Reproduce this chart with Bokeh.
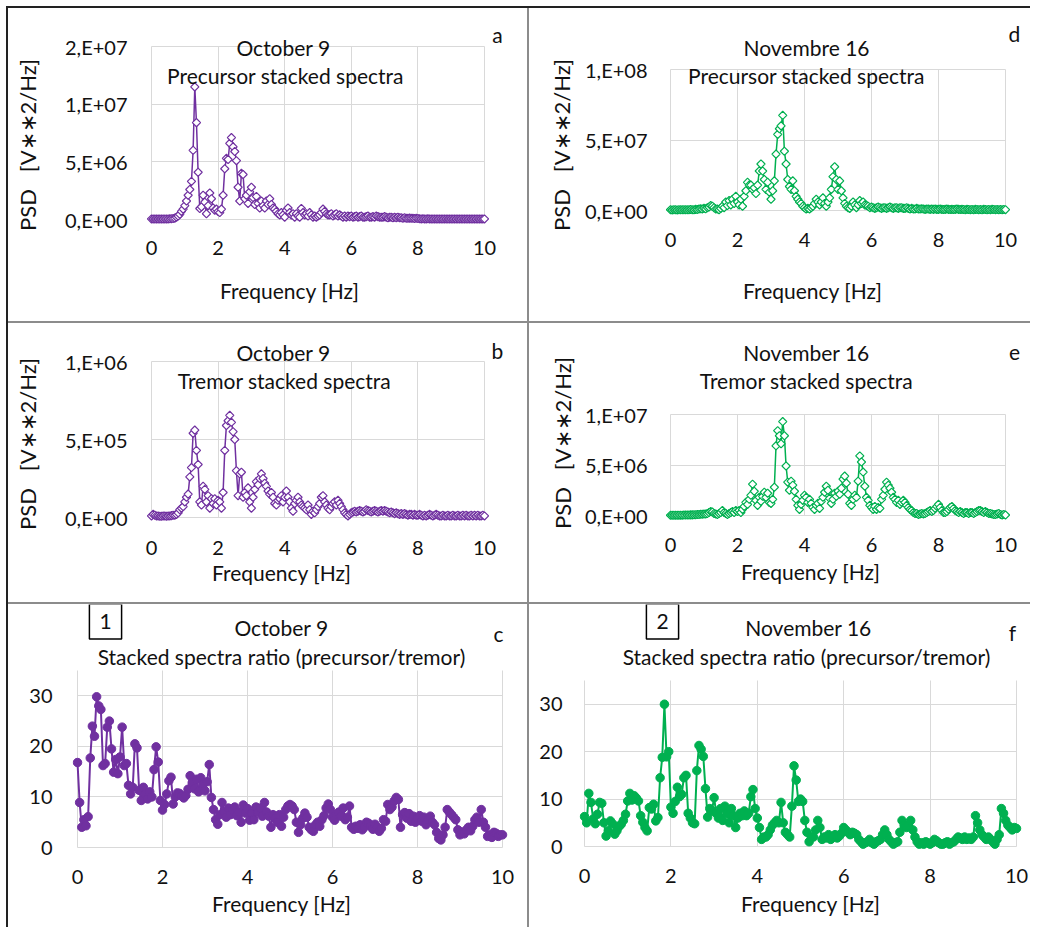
import math
from bokeh.plotting import figure
from bokeh.models import Range1d, FixedTicker, Label, Div, Grid, Title, Spacer
from bokeh.layouts import column, row
from bokeh.embed import file_html
from bokeh.resources import INLINE

# ---------------- data (frequency step 0.05 Hz, 0..10 Hz) ----------------
FREQ_STEP_HZ = 0.05

# a: October 9, precursor stacked spectra  (units 1E6 V**2/Hz)
oct9_precursor_1e6 = [
    0.05, 0.05, 0.04, 0.04, 0.04, 0.04, 0.04, 0.04, 0.05, 0.05, 0.05, 0.06, 0.07, 0.08, 0.12, 0.2, 0.3, 0.45, 0.7, 0.9,
    1.2, 1.6, 2.1, 2.6, 3.3, 6.0, 11.5, 8.4, 4.1, 0.95, 1.1, 2.1, 1.5, 0.5, 1.2, 2.3, 1.8, 1.0, 0.8, 0.9,
    0.7, 0.6, 0.9, 2.1, 4.4, 5.3, 5.2, 6.6, 7.1, 6.3, 5.9, 5.1, 2.8, 1.6, 4.0, 3.9, 1.8, 2.1, 1.4, 2.4,
    2.8, 1.9, 1.3, 2.0, 1.4, 1.0, 1.6, 1.2, 1.0, 1.6, 1.3, 1.8, 1.3, 1.0, 0.9, 0.7, 0.5, 0.4, 0.6, 0.4,
    0.2, 0.8, 1.0, 0.6, 0.4, 0.5, 0.2, 0.5, 0.3, 0.2, 0.95, 0.6, 0.4, 0.5, 0.3, 0.6, 0.4, 0.2, 0.3, 0.2,
    0.3, 0.4, 0.6, 0.9, 0.7, 0.5, 0.4, 0.4, 0.5, 0.3, 0.4, 0.5, 0.3, 0.4, 0.3, 0.2, 0.3, 0.2, 0.3, 0.25,
    0.3, 0.2, 0.25, 0.3, 0.2, 0.25, 0.3, 0.2, 0.2, 0.25, 0.3, 0.2, 0.2, 0.25, 0.2, 0.3, 0.25, 0.2, 0.2, 0.2,
    0.25, 0.2, 0.15, 0.2, 0.2, 0.15, 0.2, 0.15, 0.2, 0.15, 0.15, 0.1, 0.15, 0.1, 0.1, 0.12, 0.1, 0.1, 0.08, 0.1,
    0.08, 0.06, 0.05, 0.06, 0.05, 0.05, 0.06, 0.05, 0.05, 0.04, 0.05, 0.05, 0.04, 0.05, 0.05, 0.04, 0.05, 0.05, 0.04, 0.04,
    0.05, 0.04, 0.05, 0.04, 0.05, 0.04, 0.05, 0.05, 0.04, 0.05, 0.04, 0.05, 0.04, 0.04, 0.05, 0.04, 0.05, 0.04, 0.05, 0.04,
    0.05,
]

# d: November 16, precursor stacked spectra  (units 1E7 V**2/Hz)
nov16_precursor_1e7 = [
    0.05, 0.04, 0.06, 0.05, 0.04, 0.06, 0.05, 0.05, 0.06, 0.05, 0.05, 0.06, 0.07, 0.06, 0.05, 0.08, 0.07, 0.1, 0.12, 0.1,
    0.15, 0.12, 0.2, 0.25, 0.35, 0.3, 0.2, 0.1, 0.1, 0.05, 0.15, 0.3, 0.2, 0.6, 0.35, 0.7, 0.4, 0.8, 0.5, 1.0,
    0.6, 0.4, 0.8, 0.3, 1.0, 1.4, 2.0, 1.8, 1.8, 1.5, 1.6, 1.2, 1.8, 2.8, 3.3, 2.8, 2.2, 1.5, 2.0, 1.3,
    0.8, 1.4, 2.1, 4.0, 5.4, 5.8, 6.0, 6.75, 4.2, 3.3, 2.2, 1.7, 1.5, 2.1, 1.4, 1.0, 0.8, 0.6, 0.5, 0.3,
    0.2, 0.1, 0.15, 0.1, 0.2, 0.3, 0.5, 0.8, 0.6, 0.4, 0.6, 0.9, 0.5, 0.3, 0.6, 0.9, 1.5, 2.4, 3.1, 2.2,
    1.5, 2.1, 1.4, 0.9, 0.5, 0.3, 0.2, 0.15, 0.3, 0.6, 0.4, 0.2, 0.4, 0.7, 0.5, 0.6, 0.4, 0.35, 0.3, 0.2,
    0.25, 0.2, 0.15, 0.2, 0.25, 0.2, 0.15, 0.2, 0.2, 0.15, 0.2, 0.25, 0.2, 0.15, 0.2, 0.2, 0.15, 0.2, 0.2, 0.15,
    0.15, 0.2, 0.15, 0.1, 0.15, 0.1, 0.1, 0.15, 0.1, 0.1, 0.12, 0.1, 0.08, 0.1, 0.1, 0.08, 0.1, 0.08, 0.1, 0.08,
    0.08, 0.1, 0.08, 0.07, 0.08, 0.1, 0.08, 0.07, 0.08, 0.07, 0.08, 0.1, 0.08, 0.07, 0.08, 0.07, 0.06, 0.08, 0.07, 0.06,
    0.07, 0.06, 0.08, 0.07, 0.06, 0.07, 0.06, 0.08, 0.07, 0.06, 0.07, 0.06, 0.08, 0.07, 0.06, 0.07, 0.06, 0.07, 0.06, 0.07,
    0.06,
]

# b: October 9, tremor stacked spectra  (units 1E5 V**2/Hz)
oct9_tremor_1e5 = [
    0.1, 0.2, 0.15, 0.1, 0.1, 0.08, 0.08, 0.1, 0.1, 0.08, 0.1, 0.1, 0.12, 0.15, 0.15, 0.2, 0.3, 0.5, 0.6, 0.7,
    1.0, 1.3, 1.5, 2.6, 3.2, 5.4, 5.6, 4.3, 3.4, 1.0, 0.8, 2.0, 1.8, 1.0, 1.4, 0.6, 1.2, 0.9, 1.2, 0.8,
    1.1, 1.0, 0.6, 1.6, 4.3, 5.9, 6.2, 6.55, 6.1, 5.5, 5.0, 3.0, 1.4, 2.8, 2.9, 1.3, 1.6, 1.4, 1.9, 1.0,
    0.6, 1.3, 1.8, 2.3, 2.1, 2.5, 2.8, 2.5, 2.2, 2.0, 1.7, 1.5, 1.6, 1.3, 0.9, 0.8, 1.1, 1.2, 1.4, 1.0,
    1.3, 1.7, 1.3, 1.0, 0.6, 0.4, 0.9, 1.1, 1.3, 1.0, 0.8, 0.7, 0.6, 0.5, 0.8, 0.5, 0.2, 0.4, 0.3, 0.5,
    0.7, 0.9, 1.3, 1.4, 1.0, 0.8, 0.6, 0.5, 0.7, 0.9, 1.0, 0.8, 1.1, 0.9, 0.7, 0.5, 0.3, 0.2, 0.1, 0.2,
    0.3, 0.35, 0.4, 0.35, 0.4, 0.45, 0.4, 0.35, 0.4, 0.5, 0.45, 0.4, 0.35, 0.4, 0.45, 0.4, 0.35, 0.4, 0.45, 0.4,
    0.45, 0.4, 0.35, 0.3, 0.35, 0.3, 0.25, 0.3, 0.25, 0.2, 0.25, 0.2, 0.25, 0.2, 0.15, 0.2, 0.2, 0.15, 0.2, 0.15,
    0.15, 0.2, 0.15, 0.1, 0.15, 0.1, 0.15, 0.2, 0.15, 0.1, 0.15, 0.2, 0.15, 0.1, 0.1, 0.15, 0.1, 0.1, 0.15, 0.1,
    0.1, 0.15, 0.1, 0.1, 0.15, 0.1, 0.1, 0.15, 0.1, 0.15, 0.1, 0.1, 0.15, 0.1, 0.15, 0.1, 0.15, 0.1, 0.1, 0.15,
    0.1,
]

# e: November 16, tremor stacked spectra  (units 1E6 V**2/Hz)
nov16_tremor_1e6 = [
    0.02, 0.02, 0.02, 0.03, 0.02, 0.03, 0.03, 0.03, 0.04, 0.04, 0.05, 0.05, 0.06, 0.06, 0.07, 0.08, 0.1, 0.1, 0.12, 0.12,
    0.15, 0.15, 0.2, 0.3, 0.4, 0.35, 0.2, 0.15, 0.1, 0.2, 0.3, 0.5, 0.3, 0.2, 0.1, 0.2, 0.3, 0.4, 0.3, 0.5,
    0.4, 0.5, 0.3, 0.6, 0.9, 1.3, 1.1, 1.6, 2.0, 3.1, 2.4, 1.5, 1.0, 1.8, 1.4, 1.9, 2.3, 1.8, 2.2, 1.3,
    1.2, 1.6, 2.8, 6.9, 8.4, 7.9, 7.1, 9.3, 7.9, 4.9, 3.3, 2.5, 3.4, 3.0, 2.4, 1.6, 1.0, 0.6, 1.1, 1.5,
    2.0, 1.8, 1.3, 1.6, 1.2, 0.8, 0.6, 1.0, 1.2, 0.7, 1.4, 1.8, 2.3, 2.9, 2.5, 1.7, 1.2, 1.6, 2.2, 1.9,
    2.4, 2.1, 2.7, 3.6, 3.9, 3.2, 2.1, 1.2, 1.0, 1.6, 2.0, 1.8, 3.4, 5.9, 5.3, 4.3, 2.9, 1.8, 1.5, 1.0,
    0.8, 0.6, 0.9, 0.6, 0.8, 0.7, 1.6, 2.0, 2.6, 3.3, 3.0, 2.7, 2.3, 1.8, 1.6, 1.3, 1.5, 1.1, 1.3, 1.5,
    1.3, 1.0, 0.8, 0.6, 0.5, 0.3, 0.2, 0.2, 0.1, 0.15, 0.2, 0.15, 0.2, 0.3, 0.4, 0.5, 0.4, 0.5, 0.7, 0.9,
    1.1, 0.8, 0.5, 0.3, 0.3, 0.4, 0.6, 0.8, 0.9, 0.7, 0.5, 0.4, 0.3, 0.4, 0.3, 0.2, 0.3, 0.3, 0.2, 0.3,
    0.3, 0.2, 0.3, 0.4, 0.5, 0.5, 0.4, 0.3, 0.4, 0.3, 0.2, 0.2, 0.15, 0.1, 0.1, 0.15, 0.2, 0.1, 0.05, 0.1,
    0.05,
]

# c: October 9, stacked spectra ratio (precursor/tremor)
oct9_ratio = [
    16.8, 8.9, 4.0, 5.5, 4.3, 6.1, 17.7, 24.0, 22.0, 29.8, 28.0, 27.3, 16.2, 16.6, 23.8, 25.0, 19.5, 14.9, 17.4, 14.6,
    17.9, 23.8, 16.2, 16.6, 12.3, 10.6, 11.9, 20.5, 19.7, 11.3, 9.3, 11.9, 10.6, 9.6, 11.0, 10.0, 15.4, 19.9, 16.9, 9.3,
    7.4, 8.5, 10.6, 13.2, 13.9, 8.6, 10.0, 10.8, 10.7, 10.2, 9.8, 10.3, 11.5, 14.2, 12.8, 11.6, 13.5, 11.0, 13.8, 12.5,
    11.2, 13.0, 16.4, 9.9, 7.5, 5.5, 4.6, 6.5, 8.9, 7.0, 6.0, 7.8, 6.5, 7.5, 8.0, 6.3, 7.0, 5.0, 8.4, 6.8,
    7.7, 5.4, 6.8, 5.5, 8.0, 6.9, 7.8, 6.2, 8.9, 7.0, 6.2, 4.0, 6.5, 5.8, 5.0, 6.5, 4.2, 6.0, 7.5, 8.2,
    8.5, 8.2, 7.5, 5.0, 3.0, 4.5, 5.8, 6.8, 6.0, 4.0, 3.5, 3.2, 4.5, 5.0, 4.2, 5.5, 6.3, 7.8, 8.6, 7.5,
    6.0, 5.4, 6.5, 7.0, 6.2, 7.8, 5.5, 6.0, 8.2, 4.0, 3.6, 4.2, 3.8, 4.5, 3.5, 4.0, 5.0, 4.8, 4.2, 3.6,
    4.6, 4.0, 3.2, 3.8, 5.5, 5.2, 8.5, 7.5, 8.0, 9.2, 9.9, 9.5, 4.0, 6.5, 6.9, 5.8, 6.7, 5.2, 6.2, 5.0,
    5.8, 6.3, 5.2, 6.0, 4.5, 5.5, 6.2, 5.0, 4.5, 3.0, 1.8, 1.5, 2.5, 4.0, 7.5, 7.0, 6.5, 6.0, 5.5, 3.5,
    2.5, 3.0, 2.7, 3.5, 4.0, 3.3, 4.2, 5.5, 6.0, 5.0, 7.5, 5.0, 4.0, 2.2, 2.5, 2.0, 3.0, 2.8, 2.2, 2.5,
    2.5,
]

# f: November 16, stacked spectra ratio (precursor/tremor)
nov16_ratio = [
    6.3, 5.0, 11.2, 9.3, 5.8, 4.8, 6.8, 9.3, 9.1, 5.0, 2.2, 3.3, 5.4, 4.8, 2.6, 3.3, 4.2, 4.7, 5.5, 6.8,
    9.6, 11.2, 9.8, 10.7, 10.2, 9.6, 6.5, 5.1, 4.0, 3.3, 8.2, 7.9, 8.9, 5.4, 6.1, 14.5, 18.8, 30.0, 18.9, 20.0,
    8.3, 7.0, 9.5, 12.5, 10.5, 11.0, 14.5, 15.0, 7.0, 6.0, 5.0, 4.8, 16.0, 21.3, 20.5, 19.0, 12.2, 6.2, 8.0, 7.5,
    10.3, 7.0, 6.0, 8.0, 5.5, 8.5, 7.0, 5.0, 8.0, 6.5, 4.0, 6.0, 7.0, 6.5, 7.5, 6.5, 7.0, 10.5, 12.0, 8.0,
    6.0, 4.0, 1.5, 2.0, 2.0, 2.5, 3.5, 4.5, 5.0, 5.5, 5.0, 9.3, 5.0, 3.0, 2.5, 2.0, 8.5, 17.0, 14.0, 9.5,
    10.0, 9.5, 5.5, 3.0, 1.0, 2.0, 2.0, 3.5, 5.5, 4.0, 1.5, 2.0, 1.8, 2.5, 1.5, 2.0, 2.5, 1.8, 2.2, 2.8,
    4.0, 3.5, 3.0, 2.5, 3.0, 2.8, 2.5, 1.5, 1.0, 0.5, 0.8, 1.0, 1.5, 0.8, 0.5, 1.0, 1.2, 1.5, 2.5, 3.5,
    2.5, 1.5, 1.0, 0.5, 0.8, 1.0, 3.0, 5.5, 4.5, 4.0, 4.5, 5.5, 3.5, 2.0, 1.0, 0.5, 0.8, 0.5, 1.0, 0.8,
    0.5, 0.8, 1.5, 1.2, 0.8, 0.5, 0.5, 0.8, 1.0, 0.5, 0.8, 1.0, 1.5, 2.0, 1.8, 1.5, 2.0, 1.5, 1.8, 1.5,
    2.0, 6.5, 5.0, 3.5, 2.5, 2.0, 1.5, 2.0, 1.5, 1.0, 0.5, 1.5, 2.5, 8.0, 7.0, 5.5, 4.5, 4.0, 3.5, 4.0,
    3.8,
]

x_ticks = [0, 2, 4, 6, 8, 10]
ticks_a = [0, 5, 10, 15]
labels_a = ["0,E+00", "5,E+06", "1,E+07", "2,E+07"]
ticks_d = [0, 5, 10]
labels_d = ["0,E+00", "5,E+07", "1,E+08"]
ticks_b = [0, 5, 10]
labels_b = ["0,E+00", "5,E+05", "1,E+06"]
ticks_e = [0, 5, 10]
labels_e = ["0,E+00", "5,E+06", "1,E+07"]
ticks_ratio = [0, 10, 20, 30]

# ---------------- styling ----------------
PURPLE = "#7030A0"
GREEN = "#00B050"
GRID = "#d9d9d9"
TXT = "#111111"
DARK = "#222222"
GRAY = "#8c8c8c"
FONT = "Lato"
PAD = 5
Y_LABEL = "PSD\u00a0\u00a0\u00a0[V\u2217\u22172/Hz]"
X_LABEL = "Frequency [Hz]"
X_LABEL_W = 137     # rendered width of X_LABEL at 21px (px)
Y_LABEL_H = 179     # rendered length of Y_LABEL at 22px (px)
HAS_TITLE_STANDOFF = "standoff" in Title.properties()


def freqs(n):
    return [round(i * FREQ_STEP_HZ, 2) for i in range(n)]


def style_axis(ax):
    ax.axis_line_color = None
    ax.major_tick_line_color = None
    ax.minor_tick_line_color = None
    ax.major_tick_out = 0
    ax.major_tick_in = 0
    ax.minor_tick_out = 0
    ax.minor_tick_in = 0
    ax.major_label_text_font = FONT
    ax.major_label_text_font_size = "20px"
    ax.major_label_text_color = TXT


class Panel:
    """Panel geometry in page pixels: canvas origin/size, where x=0, x=10, y=0
    and y=ytop fall, and the frame bottom (shared along a row).  The frame runs
    up to the canvas top and right edge so the in-chart titles sit inside it."""

    def __init__(self, ox, oy, w, h, x0, x10, y0, ytop, ytop_val, fbot, yticks, ylabels,
                 xstand, ystand):
        self.x0, self.y0 = x0, y0
        self.sx = (x10 - x0) / 10.0
        self.sy = (y0 - ytop) / ytop_val
        self.fleft = x0 - PAD
        self.fbot = fbot
        p = figure(width=w, height=h, output_backend="svg", toolbar_location=None, tools="",
                   title=None,
                   x_range=Range1d(-PAD / self.sx, (ox + w - x0) / self.sx),
                   y_range=Range1d(-(fbot - y0) / self.sy, (y0 - oy) / self.sy),
                   min_border_left=self.fleft - ox, min_border_right=0,
                   min_border_top=0, min_border_bottom=h - (fbot - oy))
        p.outline_line_color = None
        p.background_fill_color = "white"
        p.border_fill_color = "white"
        style_axis(p.xaxis[0])
        style_axis(p.yaxis[0])
        p.xaxis[0].ticker = FixedTicker(ticks=x_ticks)
        p.yaxis[0].ticker = FixedTicker(ticks=yticks)
        if ylabels is not None:
            p.yaxis[0].major_label_overrides = {t: s for t, s in zip(yticks, ylabels)}
        p.xaxis[0].major_label_standoff = xstand
        p.yaxis[0].major_label_standoff = ystand
        p.xgrid.grid_line_color = GRID
        p.ygrid.grid_line_color = GRID
        p.xgrid.ticker = FixedTicker(ticks=x_ticks)
        p.ygrid.ticker = FixedTicker(ticks=yticks)
        if "cross_bounds" in Grid.properties():
            p.xgrid.cross_bounds = (0, ytop_val)
            p.ygrid.cross_bounds = (0, 10)
        self.p = p

    def xd(self, px):
        return (px - self.x0) / self.sx

    def yd(self, py):
        return (self.y0 - py) / self.sy

    def text(self, px, py, s, size="21px", **kw):
        self.p.add_layout(Label(x=self.xd(px), y=self.yd(py), text=s, text_align="center",
                                text_baseline="middle", text_font=FONT, text_font_size=size,
                                text_color=TXT, **kw))

    def _gap(self, side, px):
        # blank spacer between the axis and its title (a non-breaking space has no ink)
        kw = dict(text="\u00a0", text_font_size="1px", text_color="white")
        if HAS_TITLE_STANDOFF:
            kw["standoff"] = px
        self.p.add_layout(Title(**kw), side)

    def _title(self, text, size, offset, standoff, side, valign):
        kw = dict(text=text, align="left", offset=offset, text_font=FONT,
                  text_font_size=size, text_font_style="normal", text_color=TXT,
                  vertical_align=valign)
        if HAS_TITLE_STANDOFF:
            kw["standoff"] = standoff
        self.p.add_layout(Title(**kw), side)

    def xlabel(self, pxc, gap, standoff):
        if gap:
            self._gap("below", gap)
        self._title(X_LABEL, "21px", pxc - X_LABEL_W / 2.0 - self.fleft, standoff, "below", "bottom")

    def ylabel(self, pyc, gap, standoff):
        if gap:
            self._gap("left", gap)
        self._title(Y_LABEL, "22px", self.fbot - (pyc + Y_LABEL_H / 2.0), standoff, "left", "top")


def spectra(panel, values, color):
    x = freqs(len(values))
    panel.p.line(x, values, line_color=color, line_width=1.5)
    panel.p.scatter(x, values, marker="square", angle=math.pi / 4, size=5.8,
                    fill_color="white", line_color=color, line_width=1.2)


def ratio(panel, values, color):
    x = freqs(len(values))
    panel.p.line(x, values, line_color=color, line_width=2)
    panel.p.scatter(x, values, marker="circle", size=8.5, fill_color=color, line_color=color)


# canvas layout (page pixels)
LX, RX = 8, 529          # left / right column canvas x origin
LW, RW = 519, 501        # column widths
R1Y, R2Y, R3Y = 8, 323, 604
R1H, R2H, R3H = 313, 279, 323
FB1, FB2, FB3 = 224, 522, 852   # shared frame bottoms per row

# ---------------- panels ----------------
pa = Panel(LX, R1Y, LW, R1H, 151, 484, 219, 46, 15, FB1, ticks_a, labels_a, 16, 19)
spectra(pa, oct9_precursor_1e6, PURPLE)
pa.text(283, 47, "October 9")
pa.text(285, 75, "Precursor stacked spectra")
pa.text(497, 34, "a")
pa.ylabel(141, 17, 0)
pa.xlabel(288, 15, 0)

pd_ = Panel(RX, R1Y, RW, R1H, 670, 1005, 210, 69, 10, FB1, ticks_d, labels_d, 8, 18)
spectra(pd_, nov16_precursor_1e7, GREEN)
pd_.text(806, 47, "Novembre 16")
pd_.text(806, 75, "Precursor stacked spectra")
pd_.text(1014, 33, "d")
pd_.ylabel(141, 3, 0)
pd_.xlabel(811, 23, 0)

pb = Panel(LX, R2Y, LW, R2H, 151, 484, 517, 361, 10, FB2, ticks_b, labels_b, 18, 19)
spectra(pb, oct9_tremor_1e5, PURPLE)
pb.text(283, 352, "October 9")
pb.text(284, 380, "Tremor stacked spectra")
pb.text(497, 350, "b")
pb.ylabel(440, 17, 0)
pb.xlabel(280, 0, 0)

pe = Panel(RX, R2Y, RW, R2H, 670, 1005, 515, 414, 10, FB2, ticks_e, labels_e, 15, 18)
spectra(pe, nov16_tremor_1e6, GREEN)
pe.text(806, 352, "November 16")
pe.text(806, 380, "Tremor stacked spectra")
pe.text(1014, 352, "e")
pe.ylabel(439, 2, 0)
pe.xlabel(809, 0, 4)

pc = Panel(LX, R3Y, LW, R3H, 77, 502, 847, 670, 35, FB3, ticks_ratio, None, 17, 20)
ratio(pc, oct9_ratio, PURPLE)
pc.text(105, 621, "1", border_line_color="#000000", border_line_width=1.5,
        background_fill_color="white", padding=10)
pc.text(281, 627, "October 9")
pc.text(281, 656, "Stacked spectra ratio (precursor/tremor)")
pc.text(498, 633, "c")
pc.xlabel(280, 0, 4)

pf = Panel(RX, R3Y, RW, R3H, 584, 1016, 846, 680, 35, FB3, ticks_ratio, None, 16, 17)
ratio(pf, nov16_ratio, GREEN)
pf.text(662, 621, "2", border_line_color="#000000", border_line_width=1.5,
        background_fill_color="white", padding=10)
pf.text(808, 627, "November 16")
pf.text(806, 656, "Stacked spectra ratio (precursor/tremor)")
pf.text(1012, 632, "f")
pf.xlabel(809, 0, 6)


def bar(w, h, color):
    return Div(text="", width=w, height=h, margin=0, styles={"background-color": color})


grid = column(
    row(pa.p, bar(2, R1H, GRAY), pd_.p, spacing=0),
    bar(LW + 2 + RW, 2, GRAY),
    row(pb.p, bar(2, R2H, GRAY), pe.p, spacing=0),
    bar(LW + 2 + RW, 2, GRAY),
    row(pc.p, bar(2, R3H, GRAY), pf.p, spacing=0),
    spacing=0,
)
inner_h = R1H + R2H + R3H + 4
framed = column(bar(2 + LW + 2 + RW, 2, DARK), row(bar(2, inner_h, DARK), grid, spacing=0), spacing=0)
root = column(Spacer(height=6, width=10),
              row(Spacer(width=6, height=10), framed, spacing=0),
              spacing=0)

open("out.html", "w").write(file_html(root, INLINE))
